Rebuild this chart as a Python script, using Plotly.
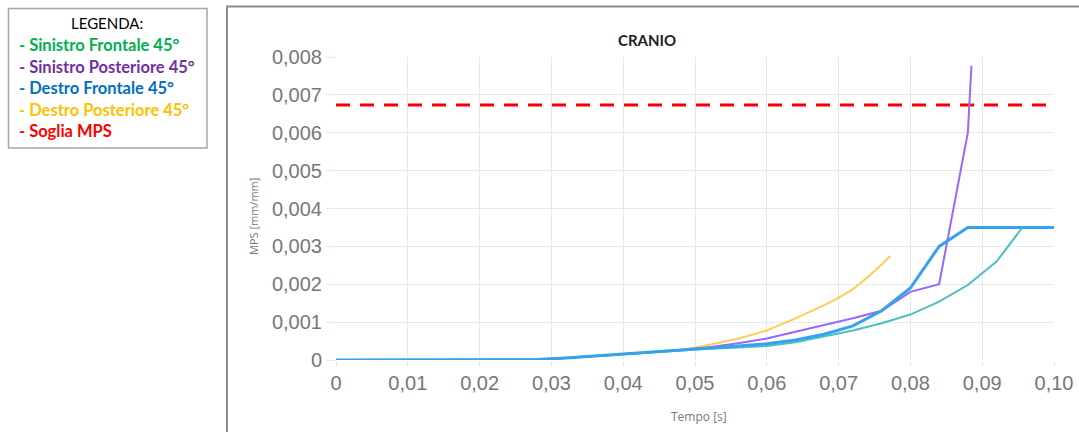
import plotly.graph_objects as go

# ---------------- data ----------------
x_tick_vals = [0, 0.01, 0.02, 0.03, 0.04, 0.05, 0.06, 0.07, 0.08, 0.09, 0.10]
x_tick_text = ["0", "0,01", "0,02", "0,03", "0,04", "0,05", "0,06", "0,07", "0,08", "0,09", "0,10"]
y_tick_vals = [0, 0.001, 0.002, 0.003, 0.004, 0.005, 0.006, 0.007, 0.008]
y_tick_text = ["0", "0,001", "0,002", "0,003", "0,004", "0,005", "0,006", "0,007", "0,008"]

t_common = [0, 0.004, 0.008, 0.012, 0.016, 0.020, 0.024, 0.028, 0.032, 0.036, 0.040, 0.044, 0.048]
mps_common = [0, 0, 0, 0, 0, 0, 0, 0.00001, 0.00005, 0.0001, 0.00015, 0.0002, 0.00026]

t_sin_front = t_common + [0.052, 0.056, 0.060, 0.064, 0.068, 0.072, 0.076, 0.080, 0.084, 0.088, 0.092, 0.0956, 0.100]
mps_sin_front = mps_common + [0.0003, 0.00033, 0.00037, 0.00047, 0.00062, 0.00078, 0.00097, 0.0012, 0.00154, 0.00198, 0.0026, 0.0035, 0.0035]

t_sin_post = t_common + [0.052, 0.056, 0.060, 0.064, 0.068, 0.072, 0.076, 0.080, 0.084, 0.088, 0.0885]
mps_sin_post = mps_common + [0.00034, 0.00044, 0.00057, 0.00074, 0.00092, 0.0011, 0.0013, 0.0018, 0.0020, 0.0060, 0.00777]

t_des_front = t_common + [0.052, 0.056, 0.060, 0.064, 0.068, 0.072, 0.076, 0.080, 0.084, 0.088, 0.092, 0.096, 0.100]
mps_des_front = mps_common + [0.0003, 0.00037, 0.00043, 0.00053, 0.00068, 0.0009, 0.0013, 0.0019, 0.0030, 0.0035, 0.0035, 0.0035, 0.0035]

t_des_post = t_common + [0.052, 0.056, 0.060, 0.064, 0.068, 0.070, 0.072, 0.074, 0.076, 0.0772]
mps_des_post = mps_common + [0.0004, 0.00056, 0.00078, 0.0011, 0.00145, 0.00164, 0.00187, 0.00218, 0.00252, 0.00275]

t_soglia = [0, 0.1]
mps_soglia = [0.00673, 0.00673]

legend_title = "LEGENDA:"
legend_items = [
    ("- Sinistro Frontale 45°", "#00b050"),
    ("- Sinistro Posteriore 45°", "#7030a0"),
    ("- Destro Frontale 45°", "#0070c0"),
    ("- Destro Posteriore 45°", "#ffc000"),
    ("- Soglia MPS", "#ff0000"),
]

# ---------------- layout geometry ----------------
# body margin is removed (post_script), so the figure fills the 1079x432 window
W, H = 1079, 432
PLOT_L, PLOT_R, PLOT_T, PLOT_B = 336, 1054, 57, 360   # target page pixels
L = PLOT_L
R = W - PLOT_R
T = PLOT_T
B = H - PLOT_B
PW, PH = PLOT_R - PLOT_L, PLOT_B - PLOT_T


def px(xp):
    return (xp - PLOT_L) / PW


def py(yp):
    return (PLOT_B - yp) / PH


fig = go.Figure()

fig.add_trace(go.Scatter(x=t_soglia, y=mps_soglia, mode="lines",
                         line=dict(color="#ff0000", width=3, dash="14px,10px"), hoverinfo="skip"))
fig.add_trace(go.Scatter(x=t_des_post, y=mps_des_post, mode="lines",
                         line=dict(color="#ffcd56", width=2)))
fig.add_trace(go.Scatter(x=t_sin_front, y=mps_sin_front, mode="lines",
                         line=dict(color="#4bc0c0", width=2)))
fig.add_trace(go.Scatter(x=t_sin_post, y=mps_sin_post, mode="lines",
                         line=dict(color="#9966ff", width=2)))
fig.add_trace(go.Scatter(x=t_des_front, y=mps_des_front, mode="lines",
                         line=dict(color="#36a2eb", width=3)))

grid = "#e8e8e8"
tickfont = dict(family="Liberation Sans, Arial, sans-serif", size=20, color="#777777")

fig.update_xaxes(range=[0, 0.1], tickvals=x_tick_vals, ticktext=x_tick_text,
                 showgrid=True, gridcolor=grid, gridwidth=1, zeroline=False,
                 ticks="outside", ticklen=5, tickcolor=grid, tickfont=tickfont,
                 showline=False, ticklabelstandoff=0, automargin=False,
                 ticklabeloverflow="allow")
fig.update_yaxes(range=[0, 0.008], tickvals=y_tick_vals, ticktext=y_tick_text,
                 showgrid=True, gridcolor=grid, gridwidth=1, zeroline=False,
                 ticks="outside", ticklen=9, tickcolor=grid, tickfont=tickfont,
                 showline=False, automargin=False, ticklabeloverflow="allow")

shapes = [
    # outer chart frame
    dict(type="rect", xref="paper", yref="paper", x0=px(227), x1=px(1100), y0=py(470), y1=py(6.5),
         line=dict(color="#8c8c8c", width=2), fillcolor="rgba(0,0,0,0)", layer="below"),
    # legend box
    dict(type="rect", xref="paper", yref="paper", x0=px(8.5), x1=px(207), y0=py(148), y1=py(8.5),
         line=dict(color="#a6a6a6", width=1.5), fillcolor="rgba(0,0,0,0)"),
]

legfont = "Lato, Open Sans, sans-serif"
annotations = [
    dict(text="<b>CRANIO</b>", x=px(647), y=py(40), xref="paper", yref="paper", showarrow=False,
         font=dict(family=legfont, size=15, color="#222222"), xanchor="center", yanchor="middle"),
    dict(text="MPS [mm/mm]", x=px(254), y=py(217), xref="paper", yref="paper", showarrow=False,
         textangle=-90, font=dict(family="Open Sans, sans-serif", size=11, color="#777777"),
         xanchor="center", yanchor="middle"),
    dict(text="Tempo [s]", x=px(699), y=py(416), xref="paper", yref="paper", showarrow=False,
         font=dict(family="Open Sans, sans-serif", size=12, color="#777777"),
         xanchor="center", yanchor="middle"),
    dict(text=legend_title, x=px(107), y=py(23), xref="paper", yref="paper", showarrow=False,
         font=dict(family=legfont, size=15, color="#000000"), xanchor="center", yanchor="middle"),
]
leg_y = [45, 67, 88, 110, 131]
for (txt, col), yy in zip(legend_items, leg_y):
    annotations.append(dict(text="<b>" + txt + "</b>", x=px(17), y=py(yy), xref="paper", yref="paper",
                            showarrow=False, font=dict(family=legfont, size=16.5, color=col),
                            xanchor="left", yanchor="middle"))

fig.update_layout(width=W, height=H, margin=dict(l=L, r=R, t=T, b=B),
                  paper_bgcolor="white", plot_bgcolor="white", showlegend=False,
                  shapes=shapes, annotations=annotations)

fig.write_html("out.html", config={"displayModeBar": False},
               post_script="document.body.style.margin='0';document.body.style.overflow='hidden';")
